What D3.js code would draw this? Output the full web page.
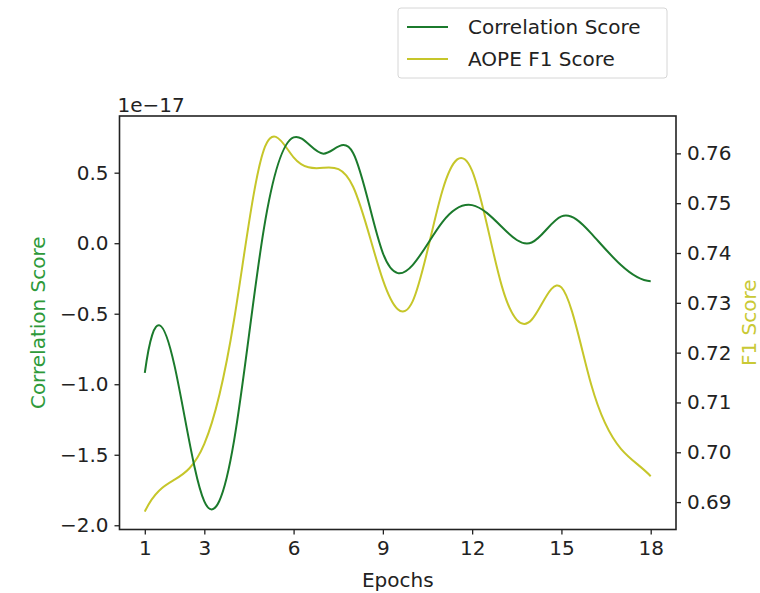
<!DOCTYPE html>
<html>
<head>
<meta charset="utf-8">
<script src="https://cdn.jsdelivr.net/npm/d3@7"></script>
<style>
  body { margin: 0; background: #fff; }
  text { font-family: "DejaVu Sans", sans-serif; fill: #222; }
</style>
</head>
<body>
<div id="chart"></div>
<script>
// epochs and the two series
var epochs = [1, 2, 3, 4, 5, 6, 7, 8, 9, 10, 11, 12, 13, 14, 15, 16, 17, 18]
// correlation score, in units of 1e-17
var corr_score = [-0.92, -0.87, -1.83, -1.40, 0.10, 0.75, 0.635, 0.64, -0.07, -0.155,
                  0.15, 0.27, 0.115, 0.005, 0.19, 0.07, -0.155, -0.27]
var f1_score = [0.6881, 0.6945, 0.7017, 0.7266, 0.7607, 0.7592, 0.7571, 0.7533, 0.7346, 0.7303,
                0.7525, 0.7565, 0.7333, 0.7266, 0.7331, 0.7136, 0.7007, 0.6952]

var x_ticks = [1, 3, 6, 9, 12, 15, 18]
var left_ticks = [-2.0, -1.5, -1.0, -0.5, 0.0, 0.5]
var right_ticks = [0.69, 0.70, 0.71, 0.72, 0.73, 0.74, 0.75, 0.76]
var legend_labels = ["Correlation Score", "AOPE F1 Score"]

var width = 760, height = 593
var plot = {left: 119.5, right: 676, top: 116, bottom: 529.5}
var green = "#1b7a2c"
var yellow = "#c6c62a"
var fontSize = 20

var svg = d3.select("#chart").append("svg")
    .attr("width", width)
    .attr("height", height)

var x = d3.scaleLinear().domain([0.15, 18.85]).range([plot.left, plot.right])
var yLeft = d3.scaleLinear().domain([-2.03, 0.902]).range([plot.bottom, plot.top])
var yRight = d3.scaleLinear().domain([0.6845, 0.7675]).range([plot.bottom, plot.top])

// not-a-knot cubic spline (what scipy's make_interp_spline gives), as a d3 curve
function curveNotAKnot(context) {
  var xs, ys
  return {
    areaStart: function() {}, areaEnd: function() {},
    lineStart: function() { xs = []; ys = [] },
    point: function(px, py) { xs.push(+px); ys.push(+py) },
    lineEnd: function() {
      var n = xs.length
      if (n < 4) { // fall back to straight lines
        xs.forEach(function(v, i) { i ? context.lineTo(v, ys[i]) : context.moveTo(v, ys[i]) })
        return
      }
      var h = d3.range(n - 1).map(function(i) { return xs[i + 1] - xs[i] })
      // build system for second derivatives M
      var A = d3.range(n).map(function() { return new Array(n).fill(0) })
      var b = new Array(n).fill(0)
      A[0][0] = h[1]; A[0][1] = -(h[0] + h[1]); A[0][2] = h[0]
      A[n - 1][n - 3] = h[n - 2]; A[n - 1][n - 2] = -(h[n - 3] + h[n - 2]); A[n - 1][n - 1] = h[n - 3]
      for (var i = 1; i < n - 1; i++) {
        A[i][i - 1] = h[i - 1]
        A[i][i] = 2 * (h[i - 1] + h[i])
        A[i][i + 1] = h[i]
        b[i] = 6 * ((ys[i + 1] - ys[i]) / h[i] - (ys[i] - ys[i - 1]) / h[i - 1])
      }
      // gaussian elimination with partial pivoting
      for (var c = 0; c < n; c++) {
        var p = c
        for (var r = c + 1; r < n; r++) if (Math.abs(A[r][c]) > Math.abs(A[p][c])) p = r
        var tmp = A[c]; A[c] = A[p]; A[p] = tmp
        var tb = b[c]; b[c] = b[p]; b[p] = tb
        for (var r = c + 1; r < n; r++) {
          var f = A[r][c] / A[c][c]
          if (!f) continue
          for (var k = c; k < n; k++) A[r][k] -= f * A[c][k]
          b[r] -= f * b[c]
        }
      }
      var M = new Array(n).fill(0)
      for (var r = n - 1; r >= 0; r--) {
        var s = b[r]
        for (var k = r + 1; k < n; k++) s -= A[r][k] * M[k]
        M[r] = s / A[r][r]
      }
      context.moveTo(xs[0], ys[0])
      for (var i = 0; i < n - 1; i++) {
        var hi = h[i], dy = (ys[i + 1] - ys[i]) / hi
        var d0 = dy - hi * (2 * M[i] + M[i + 1]) / 6
        var d1 = dy + hi * (M[i] + 2 * M[i + 1]) / 6
        context.bezierCurveTo(xs[i] + hi / 3, ys[i] + d0 * hi / 3,
                              xs[i + 1] - hi / 3, ys[i + 1] - d1 * hi / 3,
                              xs[i + 1], ys[i + 1])
      }
    }
  }
}

var lineLeft = d3.line()
    .x(function(d, i) { return x(epochs[i]) })
    .y(function(d) { return yLeft(d) })
    .curve(curveNotAKnot)

var lineRight = d3.line()
    .x(function(d, i) { return x(epochs[i]) })
    .y(function(d) { return yRight(d) })
    .curve(curveNotAKnot)

svg.append("path")
    .datum(f1_score)
    .attr("d", lineRight)
    .attr("fill", "none")
    .attr("stroke", yellow)
    .attr("stroke-width", 2)

svg.append("path")
    .datum(corr_score)
    .attr("d", lineLeft)
    .attr("fill", "none")
    .attr("stroke", green)
    .attr("stroke-width", 2)

// axes
function styleAxis(g) {
  g.select(".domain").remove()
  g.selectAll(".tick line").attr("stroke", "#222").attr("stroke-width", 1.3)
  g.selectAll(".tick text").style("font-size", fontSize + "px").attr("fill", "#222")
}

svg.append("g")
    .attr("transform", "translate(0," + plot.bottom + ")")
    .call(d3.axisBottom(x).tickValues(x_ticks).tickSize(5).tickPadding(6).tickFormat(d3.format("d")))
    .call(styleAxis)

svg.append("g")
    .attr("transform", "translate(" + plot.left + ",0)")
    .call(d3.axisLeft(yLeft).tickValues(left_ticks).tickSize(5).tickPadding(6)
      .tickFormat(function(d) { return d3.format(".1f")(d).replace("-", "\u2212") }))
    .call(styleAxis)

svg.append("g")
    .attr("transform", "translate(" + plot.right + ",0)")
    .call(d3.axisRight(yRight).tickValues(right_ticks).tickSize(5).tickPadding(6).tickFormat(d3.format(".2f")))
    .call(styleAxis)

// frame
svg.append("rect")
    .attr("x", plot.left).attr("y", plot.top)
    .attr("width", plot.right - plot.left).attr("height", plot.bottom - plot.top)
    .attr("fill", "none")
    .attr("stroke", "#222")
    .attr("stroke-width", 1.6)

// offset text and axis titles
svg.append("text")
    .attr("x", plot.left - 2).attr("y", 112)
    .style("font-size", fontSize + "px")
    .text("1e\u221217")

svg.append("text")
    .attr("x", (plot.left + plot.right) / 2).attr("y", 587)
    .attr("text-anchor", "middle")
    .style("font-size", fontSize + "px")
    .text("Epochs")

svg.append("text")
    .attr("transform", "translate(45," + (plot.top + plot.bottom) / 2 + ") rotate(-90)")
    .attr("text-anchor", "middle")
    .style("font-size", fontSize + "px")
    .style("fill", "#2e9a3a")
    .text("Correlation Score")

svg.append("text")
    .attr("transform", "translate(756," + (plot.top + plot.bottom) / 2 + ") rotate(-90)")
    .attr("text-anchor", "middle")
    .style("font-size", fontSize + "px")
    .style("fill", "#c9c935")
    .text("F1 Score")

// legend
var legend = svg.append("g").attr("transform", "translate(398,8)")
legend.append("rect")
    .attr("width", 269).attr("height", 70)
    .attr("rx", 3)
    .attr("fill", "#fff")
    .attr("stroke", "#d6d6d6")

var entry = legend.selectAll(".entry")
    .data(legend_labels)
    .enter().append("g")
    .attr("transform", function(d, i) { return "translate(0," + (19 + i * 32) + ")" })

entry.append("line")
    .attr("x1", 9).attr("x2", 50)
    .attr("stroke", function(d, i) { return i ? yellow : green })
    .attr("stroke-width", 2)

entry.append("text")
    .attr("x", 70).attr("dy", "0.35em")
    .style("font-size", fontSize + "px")
    .text(function(d) { return d })
</script>
</body>
</html>
